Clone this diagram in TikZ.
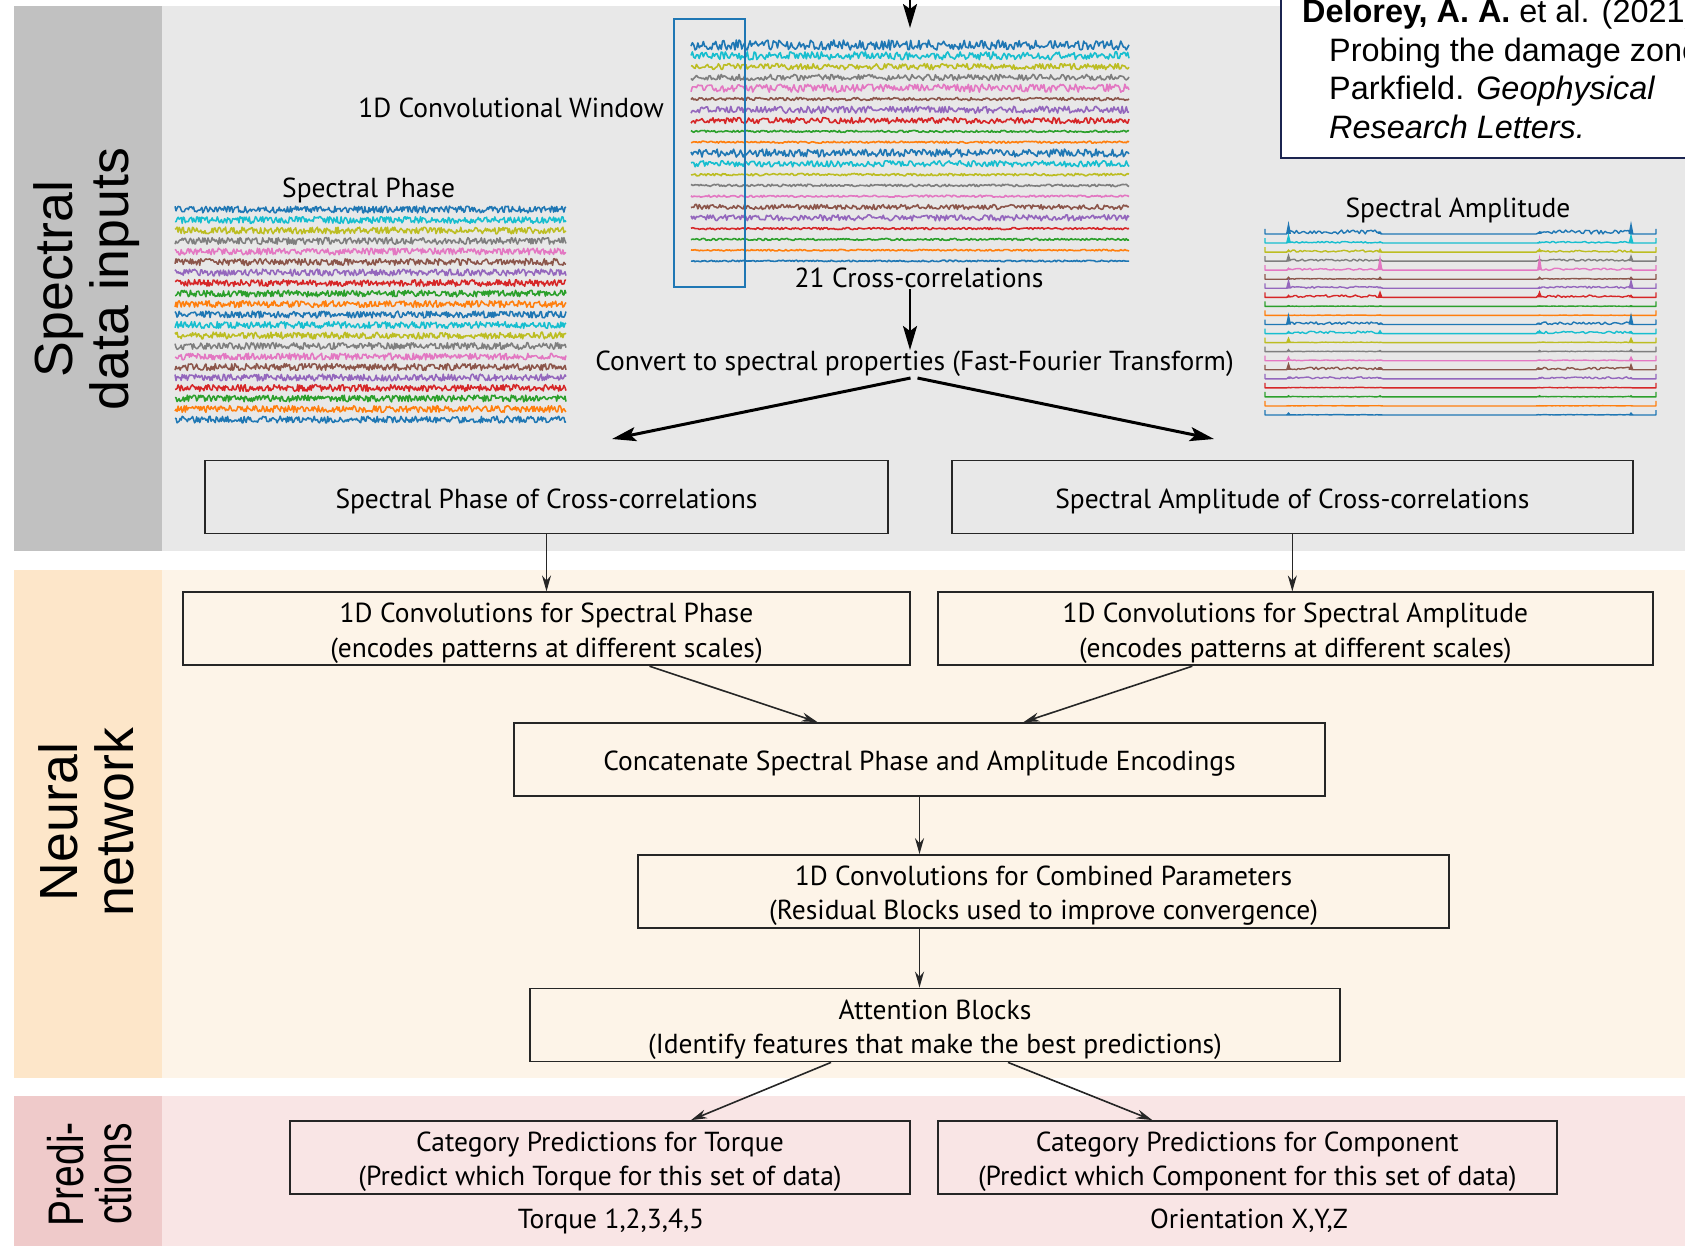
\documentclass[tikz,border=0pt]{standalone}
\usepackage{fontspec}
\setmainfont{PT Sans}
\newfontfamily\arialfont{Liberation Sans}
\usetikzlibrary{positioning,arrows.meta,calc}

% trace colours (row order of the plots)
\definecolor{c0}{HTML}{1F77B4}
\definecolor{c1}{HTML}{17BECF}
\definecolor{c2}{HTML}{BCBD22}
\definecolor{c3}{HTML}{7F7F7F}
\definecolor{c4}{HTML}{E377C2}
\definecolor{c5}{HTML}{8C564B}
\definecolor{c6}{HTML}{9467BD}
\definecolor{c7}{HTML}{D62728}
\definecolor{c8}{HTML}{2CA02C}
\definecolor{c9}{HTML}{FF7F0E}
% band colours
\definecolor{inputside}{HTML}{C1C1C1}
\definecolor{inputbg}{HTML}{E8E8E8}
\definecolor{nnside}{HTML}{FDE6C9}
\definecolor{nnbg}{HTML}{FDF4E8}
\definecolor{predside}{HTML}{EFCACA}
\definecolor{predbg}{HTML}{F9E5E5}
\definecolor{citeblue}{HTML}{1B2450}

\newcommand\flowfont{\fontsize{27.5}{34.4}\selectfont}
\newcommand\bandfont{\arialfont\fontsize{53.7}{56}\selectfont}
\newcommand\lineup{\rule{0pt}{28.5pt}}

\begin{document}
\begin{tikzpicture}[x=1pt,y=-1pt,>={Stealth[length=16pt,width=9pt]},
    box/.style={draw=black!85,line width=1.8pt,minimum height=73pt,align=center,font=\flowfont,inner sep=0pt},
    lbl/.style={font=\flowfont,inner sep=1pt},
    band label/.style={rotate=90,align=center,font=\bandfont},
    flow/.style={->,line width=1.6pt,draw=black!85},
    fft/.style={->,line width=3pt,>={Stealth[length=24pt,width=14pt,inset=5pt]}},
    trace/.style={line width=1.6pt,line join=round},
    peak trace/.style={line width=1.4pt,line join=round}]

    \useasboundingbox (0,0) rectangle (1685,1246);
    \clip (0,0) rectangle (1685,1246);

    % bands
    \fill[inputbg] (162,6) rectangle (1685,551);
    \fill[inputside] (14,6) rectangle (162,551);
    \fill[nnbg] (162,570) rectangle (1685,1078);
    \fill[nnside] (14,570) rectangle (162,1078);
    \fill[predbg] (162,1096) rectangle (1685,1246);
    \fill[predside] (14,1096) rectangle (162,1246);

    \node[band label] (inlbl) at (87,279) {Spectral\\data inputs};
    \node[band label] (nnlbl) at (86,822) {Neural\\network};
    \node[band label,font=\arialfont\fontsize{50}{48}\selectfont] (predlbl) at (90,1174)
        {\scalebox{0.78}[1]{Predi-}\\\scalebox{0.78}[1]{ctions}};

    % reference box
    \filldraw[fill=white,draw=citeblue,line width=2pt] (1281,-20) rectangle (1700,158);
    \node[anchor=north west,align=left,inner sep=0pt,font=\arialfont\fontsize{32.4}{38.5}\selectfont] (cite) at (1302,-1)
        {\textbf{Delorey, A. A.} et al. (2021)\\
         \hspace*{27pt}Probing the damage zone\\
         \hspace*{27pt}Parkfield. \textit{Geophysical}\\
         \hspace*{27pt}\textit{Research Letters.}};

    % cross-correlations
    \pgfmathsetseed{7}
    \foreach \i/\a in {0/5,1/4,2/3,3/3,4/4,5/1.5,6/3.5,7/3,8/1,9/1,10/4,11/3,12/1.2,13/1.2,14/1,15/2.5,16/3,17/1,18/1,19/0.8,20/0.8}{
        \pgfmathtruncatemacro\k{mod(\i,10)}
        \draw[trace,c\k] plot[domain=691:1129,samples=320] (\x,{45+10.8*\i+\a*rand});
    }
    \draw[c0,line width=2pt] (674,19) rectangle (745,287);

    % spectral phase
    \foreach \i in {0,...,20}{
        \pgfmathtruncatemacro\k{mod(\i,10)}
        \draw[trace,line width=1.5pt,c\k] plot[domain=175:566,samples=380] (\x,{209.5+10.5*\i+3.4*rand});
    }

    % spectral amplitude
    \foreach \i/\ha/\hb/\hc/\hd/\g in {0/13/3/3/13/4,1/10/2/2/10/1.5,2/3/4/4/3/2,3/8/3/3/7/2,4/3/16/16/3/2,
        5/3/3/3/3/0.8,6/10/2/2/10/2,7/3/7/7/3/2.5,8/1.5/1/1/1.5/0.4,9/1/1/1/1/0.4,10/12/2/2/12/2.5,
        11/3/4/4/3/2.5,12/6/1/1/6/0.5,13/3/2/2/3/0.5,14/5/1/1/5/0.8,15/8/2/2/7/2.5,16/2/2/2/2/2,
        17/1/1/1/1/0.5,18/2/2/2/2/0.5,19/1/1/1/1/0.3,20/3/1/1/3/0.4}{
        \pgfmathtruncatemacro\k{mod(\i,10)}
        \pgfmathsetmacro\yb{234+9.05*\i}
        \draw[peak trace,c\k] (1265,\yb-5) -- plot[domain=1265:1656,samples=200]
            (\x,{\yb-\g*rnd*((\x>1288)*(\x<1382)+(\x>1538)*(\x<1632))}) -- (1656,\yb-5);
        \foreach \p/\h in {1288.5/\ha,1380/\hb,1539.5/\hc,1631/\hd}
            \fill[c\k] (\p-2.5,\yb) -- (\p,{\yb-\h}) -- (\p+2.5,\yb) -- cycle;
    }

    % labels of the top part
    \node[lbl,anchor=east] (winlbl) at (665,107.5) {1D Convolutional Window};
    \node[lbl] (phaselbl) at (368.6,190) {Spectral Phase};
    \node[lbl] (amplbl) at (1458,210.5) {Spectral Amplitude};
    \node[lbl] (cclbl) at (919,278) {21 Cross-correlations};
    \node[lbl] (fftlbl) at (914.5,364) {Convert to spectral properties (Fast-Fourier Transform)};

    \coordinate (topin) at (910,0);
    \coordinate (ccin) at (910,28);
    \coordinate (phasetip) at (612,439);
    \coordinate (amptip) at (1214,439);
    \draw[fft,line width=2.4pt] (topin) -- (ccin);
    \draw[fft,line width=2.4pt] (cclbl.south -| ccin) -- (fftlbl.north -| ccin);
    \draw[fft] ([xshift=-4pt]fftlbl.south) -- (phasetip);
    \draw[fft] ([xshift=3pt]fftlbl.south) -- (amptip);

    % flow boxes
    \node[box,minimum width=683pt] (phasecc) at (546.5,497) {\lineup Spectral Phase of Cross-correlations};
    \node[box,minimum width=681pt,right=62pt of phasecc] (ampcc) {\lineup Spectral Amplitude of Cross-correlations};
    \node[box,minimum width=727pt,below=57pt of phasecc] (convphase) {\lineup 1D Convolutions for Spectral Phase\\(encodes patterns at different scales)};
    \node[box,minimum width=715pt,right=26pt of convphase] (convamp) {\lineup 1D Convolutions for Spectral Amplitude\\(encodes patterns at different scales)};
    \node[box,minimum width=811pt] (concat) at (919.5,759.5) {\lineup Concatenate Spectral Phase and Amplitude Encodings};
    \node[box,minimum width=811pt] (combined) at (1043.5,891.5) {\lineup 1D Convolutions for Combined Parameters\\(Residual Blocks used to improve convergence)};
    \node[box,minimum width=810pt] (attention) at (935,1025) {\lineup Attention Blocks\\(Identify features that make the best predictions)};
    \node[box,minimum width=620pt] (torque) at (600,1157.5) {\lineup Category Predictions for Torque\\(Predict which Torque for this set of data)};
    \node[box,minimum width=619pt,right=26pt of torque] (component) {\lineup Category Predictions for Component\\(Predict which Component for this set of data)};
    \node[lbl] (torquecls) at (611,1221) {Torque 1,2,3,4,5};
    \node[lbl] (orientcls) at (1249,1221) {Orientation X,Y,Z};

    \draw[flow] (phasecc) -- (convphase);
    \draw[flow] (ampcc.south) -- (ampcc.south |- convamp.north);
    \draw[flow] ([xshift=103pt]convphase.south) -- ([xshift=-102pt]concat.north);
    \draw[flow] ([xshift=-103pt]convamp.south) -- ([xshift=104pt]concat.north);
    \draw[flow] (concat.south) -- (concat.south |- combined.north);
    \draw[flow] (concat.south |- combined.south) -- (concat.south |- attention.north);
    \draw[flow] ([xshift=-104pt]attention.south) -- ([xshift=91pt]torque.north);
    \draw[flow] ([xshift=73pt]attention.south) -- ([xshift=-95pt]component.north);
\end{tikzpicture}
\end{document}
